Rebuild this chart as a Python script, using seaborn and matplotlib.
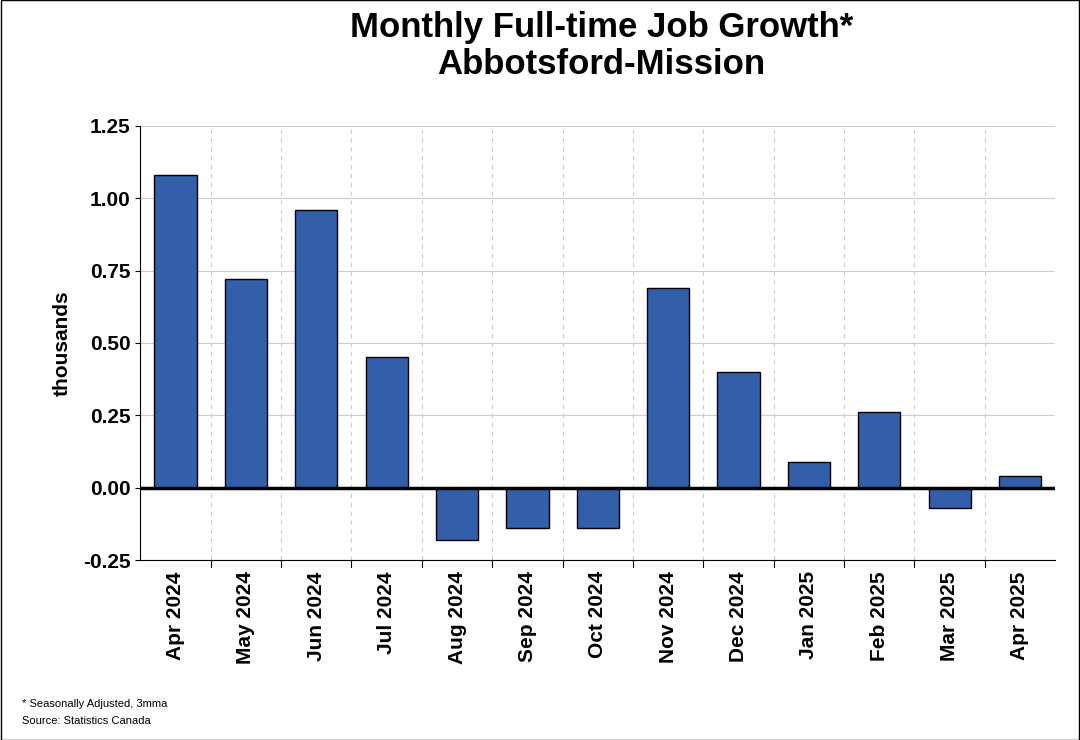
import matplotlib
matplotlib.use("Agg")
import matplotlib.pyplot as plt
import seaborn as sns
import pandas as pd
import numpy as np

months = ["Apr 2024","May 2024","Jun 2024","Jul 2024","Aug 2024","Sep 2024","Oct 2024",
          "Nov 2024","Dec 2024","Jan 2025","Feb 2025","Mar 2025","Apr 2025"]
values = [1.08,0.72,0.96,0.45,-0.18,-0.14,-0.14,0.69,0.40,0.09,0.26,-0.07,0.04]
yticks = [-0.25,0.00,0.25,0.50,0.75,1.00,1.25]

plt.rcParams["font.family"] = "Liberation Sans"
df = pd.DataFrame({"month": months, "value": values})
fig = plt.figure(figsize=(10.8,7.4), dpi=100)
ax = fig.add_axes([0.13, 0.243, 0.847, 0.587])
sns.barplot(data=df, x="month", y="value", color="#335FAA", saturation=1,
            width=0.6, edgecolor="black", linewidth=1, ax=ax, zorder=3)
ax.set_ylim(-0.25,1.25)
ax.set_xlim(-0.5,len(months)-0.5)
ax.set_yticks(yticks)
ax.set_yticklabels([f"{v:.2f}" for v in yticks], fontsize=15, fontweight="bold")
ax.set_xticks(np.arange(len(months)))
ax.set_xticklabels(months, rotation=90, fontsize=15, fontweight="bold")
ax.tick_params(axis="x", length=0, pad=8)
for b in np.arange(0.5, len(months)-0.5, 1):
    ax.axvline(b, color="#cccccc", linestyle=(0,(4,4)), linewidth=0.8, zorder=1)
    ax.plot([b,b],[-0.25,-0.275], color="black", lw=0.8, clip_on=False)
ax.yaxis.grid(True, color="#cccccc", linewidth=0.8, zorder=0)
ax.axhline(0, color="black", linewidth=2.5, zorder=4)
for s in ["top","right"]:
    ax.spines[s].set_visible(False)
ax.set_xlabel("")
ax.set_ylabel("thousands", fontsize=15, fontweight="bold", labelpad=8)
fig.suptitle("Monthly Full-time Job Growth*\nAbbotsford-Mission", x=0.557, y=0.985,
             fontsize=25, fontweight="bold", linespacing=1.15)
fig.text(0.02, 0.045, "* Seasonally Adjusted, 3mma", fontsize=8)
fig.text(0.02, 0.022, "Source: Statistics Canada", fontsize=8)
fig.patches.append(plt.Rectangle((0.0005,0.0005),0.999,0.999, transform=fig.transFigure,
                                 fill=False, edgecolor="black", linewidth=1))
fig.savefig("out.png", dpi=100)
